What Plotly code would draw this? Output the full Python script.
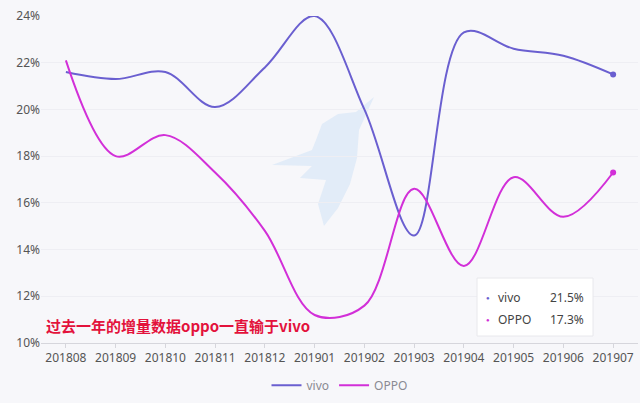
import plotly.graph_objects as go

months = ["201808", "201809", "201810", "201811", "201812", "201901",
          "201902", "201903", "201904", "201905", "201906", "201907"]
vivo = [21.6, 21.3, 21.6, 20.1, 21.8, 24.0, 20.0, 14.6, 23.3, 22.6, 22.3, 21.5]
oppo = [22.1, 18.0, 18.9, 17.3, 14.8, 11.2, 11.6, 16.6, 13.3, 17.1, 15.4, 17.3]
y_ticks = [10, 12, 14, 16, 18, 20, 22, 24]
y_labels = ["10%", "12%", "14%", "16%", "18%", "20%", "22%", "24%"]

vivo_color = "#6a5fd0"
oppo_color = "#d22fd8"
bg = "#f7f7fa"

L, R, T, B = 41, 2, 16, 60
W, H = 640, 403
PW, PH = W - L - R, H - T - B


def px(x, y):
    return ((x - L) / PW, (H - B - y) / PH)


fig = go.Figure()
fig.add_trace(go.Scatter(x=months, y=vivo, name="vivo", mode="lines",
                         line=dict(color=vivo_color, width=2, shape="spline", smoothing=1.0)))
fig.add_trace(go.Scatter(x=months, y=oppo, name="OPPO", mode="lines",
                         line=dict(color=oppo_color, width=2, shape="spline", smoothing=1.0)))
fig.add_trace(go.Scatter(x=[months[-1]], y=[vivo[-1]], mode="markers", showlegend=False,
                         marker=dict(color=vivo_color, size=6)))
fig.add_trace(go.Scatter(x=[months[-1]], y=[oppo[-1]], mode="markers", showlegend=False,
                         marker=dict(color=oppo_color, size=6)))

# faint watermark bird (decorative)
bird_pts = [(374, 97), (356, 112), (338, 114), (322, 124), (316, 140), (312, 150),
            (272, 165), (312, 166), (300, 178), (326, 180), (318, 204), (324, 226),
            (338, 208), (350, 184), (357, 158), (359, 130)]
path = "M " + " L ".join(f"{px(a, b)[0]:.4f},{px(a, b)[1]:.4f}" for a, b in bird_pts) + " Z"

bx0, by0 = px(477, 336)
bx1, by1 = px(593, 278)
shapes = [
    dict(type="path", xref="paper", yref="paper", path=path, layer="below",
         fillcolor="#e2ecf8", line=dict(width=0)),
    dict(type="line", xref="x", yref="paper", x0=months[-1], x1=months[-1], y0=0, y1=1,
         line=dict(color="#a8a8b0", width=1)),
    dict(type="rect", xref="paper", yref="paper", x0=bx0, x1=bx1, y0=by0, y1=by1,
         fillcolor="white", line=dict(color="#e8e8ec", width=1)),
]


def ann(x, y, text, color, size, anchor, family="Noto Sans"):
    ax, ay = px(x, y)
    return dict(xref="paper", yref="paper", x=ax, y=ay, text=text, showarrow=False,
                xanchor=anchor, yanchor="middle", font=dict(color=color, size=size, family=family))


annotations = [
    ann(488, 298, "●", vivo_color, 6, "center"),
    ann(496, 297, "vivo", "#444", 12, "left"),
    ann(586, 297, "21.5%", "#444", 12, "right"),
    ann(488, 320, "●", oppo_color, 6, "center"),
    ann(496, 319, "OPPO", "#444", 12, "left"),
    ann(586, 319, "17.3%", "#444", 12, "right"),
    ann(44, 325, "<b>过去一年的增量数据oppo一直输于vivo</b>", "#e3123c", 15, "left",
        "Noto Sans CJK SC"),
]

fig.update_layout(
    width=W, height=H,
    margin=dict(l=L, r=R, t=T, b=B),
    paper_bgcolor=bg, plot_bgcolor=bg,
    showlegend=True,
    legend=dict(orientation="h", x=0.5, xanchor="center", y=-0.085, yanchor="top",
                font=dict(color="#8a8a92", size=12, family="Noto Sans"),
                bgcolor="rgba(0,0,0,0)", itemwidth=30),
    shapes=shapes,
    annotations=annotations,
    xaxis=dict(type="category", range=[-0.5, 11.5], showgrid=False, automargin=False,
               showline=True, linecolor="#d6d6dc", ticks="outside", ticklen=4,
               tickcolor="#d6d6dc", tickfont=dict(color="#555", size=12, family="Noto Sans")),
    yaxis=dict(range=[10, 24], tickvals=y_ticks, ticktext=y_labels, showgrid=True,
               automargin=False, gridcolor="#eeeef3", zeroline=False, showline=False,
               tickfont=dict(color="#555", size=12, family="Noto Sans")),
)

fig.write_html("out.html", config={"displayModeBar": False},
               post_script="document.body.style.margin='0';document.body.style.background='#f7f7fa';")
